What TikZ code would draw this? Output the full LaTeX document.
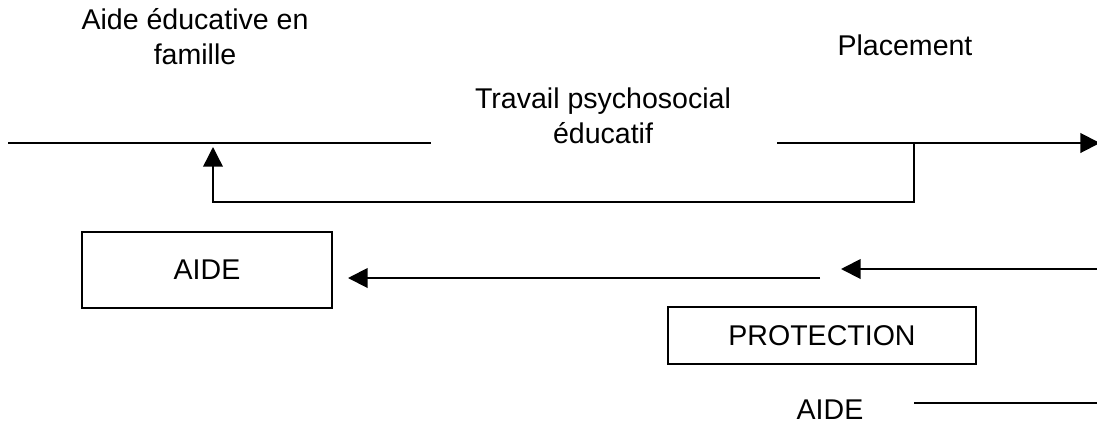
\documentclass[tikz,border=0pt]{standalone}
\usepackage{fontspec}
\setmainfont{Liberation Sans}
\usetikzlibrary{arrows.meta}

\begin{document}
\begin{tikzpicture}[x=0.025cm, y=-0.025cm,
  font=\fontsize{20.3}{24.5}\selectfont,
  txt/.style = {inner sep=0pt, align=center, anchor=base},
  box/.style = {draw, line width=1pt, inner sep=0pt},
  trait/.style = {line width=1.4pt},
  fl/.style = {line width=1.4pt, -{Triangle[length=14pt, width=14pt]}},
  retour/.style = {line width=1pt, -{Triangle[length=14pt, width=14pt]}}]
\clip (0,0) rectangle (1097,423);

% textes (base = derniere ligne)
\node[txt] (aef)  at (195,64)  {Aide éducative en\\famille};
\node[txt] (plac) at (905,55)  {Placement};
\node[txt] (trav) at (603,143) {Travail psychosocial\\éducatif};
\node[txt] (aide2) at (830,419) {AIDE};

% boites
\node[box, minimum width=6.25cm, minimum height=1.9cm] (aide) at (207,270) {AIDE};
\node[box, minimum width=7.7cm, minimum height=1.425cm] (prot) at (822,335.5) {PROTECTION};

% points des traits
\coordinate (g1) at (8,143);
\coordinate (g2) at (431,143);
\coordinate (d1) at (777,143);
\coordinate (d2) at (1100,143);
\coordinate (br) at (914,143);
\coordinate (coin) at (213,202);
\coordinate (haut) at (213,147);
\coordinate (m1) at (820,278);
\coordinate (m2) at (348,278);
\coordinate (r1) at (1100,269);
\coordinate (r2) at (841,269);
\coordinate (b1) at (914,403);
\coordinate (b2) at (1100,403);

\draw[trait] (g1) -- (g2);
\draw[fl] (d1) -- (d2);
\draw[retour] (br) |- (coin) -- (haut);
\draw[fl] (m1) -- (m2);
\draw[fl] (r1) -- (r2);
\draw[trait] (b1) -- (b2);
\end{tikzpicture}
\end{document}
